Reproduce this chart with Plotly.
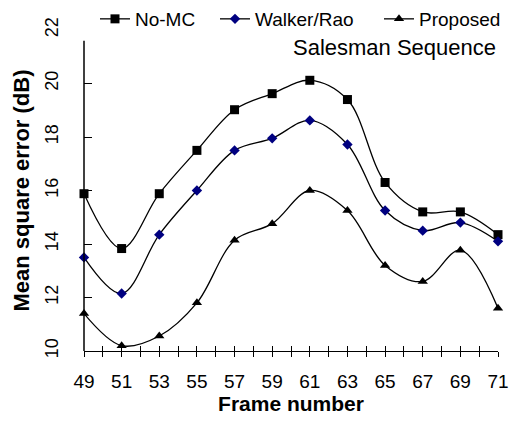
import plotly.graph_objects as go

frames = [49, 51, 53, 55, 57, 59, 61, 63, 65, 67, 69, 71]
no_mc = [15.88, 13.83, 15.88, 17.5, 19.02, 19.62, 20.12, 19.4, 16.3, 15.2, 15.2, 14.35]
walker_rao = [13.5, 12.15, 14.35, 16.0, 17.5, 17.95, 18.62, 17.72, 15.25, 14.5, 14.8, 14.1]
proposed = [11.4, 10.2, 10.56, 11.8, 14.14, 14.76, 16.0, 15.25, 13.2, 12.6, 13.77, 11.6]

x_ticks = list(range(49, 72))
x_ticktext = [str(v) if v % 2 == 1 else "" for v in x_ticks]
y_ticks = [10, 12, 14, 16, 18, 20, 22]

FONT = "Arial, Liberation Sans, sans-serif"

fig = go.Figure()
series = [
    ("No-MC", no_mc, "square", "black", 9, "legend"),
    ("Walker/Rao", walker_rao, "diamond", "#000080", 8, "legend2"),
    ("Proposed", proposed, "triangle-up", "black", 9, "legend3"),
]
for name, vals, sym, col, sz, lg in series:
    fig.add_trace(go.Scatter(
        x=frames, y=vals, name=name, mode="lines+markers", legend=lg,
        line=dict(color="black", width=1.3, shape="spline", smoothing=1.0),
        marker=dict(symbol=sym, color=col, size=sz, line=dict(width=0)),
        cliponaxis=False,
    ))

# overlay axis for the inner half of the crossing x ticks
fig.add_trace(go.Scatter(x=[frames[0]], y=[no_mc[0]], xaxis="x2", yaxis="y",
                         mode="markers", marker=dict(opacity=0), showlegend=False,
                         hoverinfo="skip"))

def leg(xpx):
    return dict(orientation="h", x=xpx / 511, xanchor="left", xref="container",
                y=1.0, yanchor="top", yref="container", font=dict(size=19),
                itemwidth=30, bgcolor="rgba(0,0,0,0)")

fig.update_layout(
    width=511, height=423,
    margin=dict(l=84, r=13, t=30, b=72, autoexpand=False),
    paper_bgcolor="white", plot_bgcolor="white",
    font=dict(family=FONT, color="black", size=18),
    showlegend=True,
    legend=leg(95), legend2=leg(215), legend3=leg(379),
    xaxis=dict(range=[49, 71], tickvals=x_ticks, ticktext=x_ticktext,
               ticks="outside", ticklen=5, tickwidth=1.2, tickcolor="black",
               showline=True, linecolor="black", linewidth=1.3, automargin=False,
               showgrid=False, zeroline=False, tickfont=dict(size=19),
               ticklabelstandoff=8,
               title=dict(text="<b>Frame number</b>", font=dict(size=21), standoff=0)),
    xaxis2=dict(range=[49, 71], overlaying="x", side="bottom", tickvals=x_ticks,
                showticklabels=False, ticks="inside", ticklen=5, tickwidth=1.2,
                tickcolor="black", showline=False, showgrid=False, zeroline=False),
    yaxis=dict(range=[10, 22], tickvals=y_ticks, ticks="inside", ticklen=8,
               tickwidth=1.2, tickcolor="black", showline=False, automargin=False,
               showgrid=False, zeroline=False, tickangle=-90,
               tickfont=dict(size=18), ticklabelstandoff=21,
               title=dict(text="<b>Mean square error (dB)</b>", font=dict(size=22), standoff=6)),
    shapes=[dict(type="line", xref="x domain", yref="y", x0=0, x1=0, y0=10, y1=21.6,
                 line=dict(color="black", width=1.5))],
    annotations=[dict(text="Salesman Sequence", xref="paper", yref="y", x=1.0, y=21.35,
                      xanchor="right", yanchor="middle", showarrow=False,
                      font=dict(size=22, family=FONT))],
)

fig.write_html("out.html", config={"displayModeBar": False},
               post_script="document.body.style.margin='0';document.body.style.overflow='hidden';")
